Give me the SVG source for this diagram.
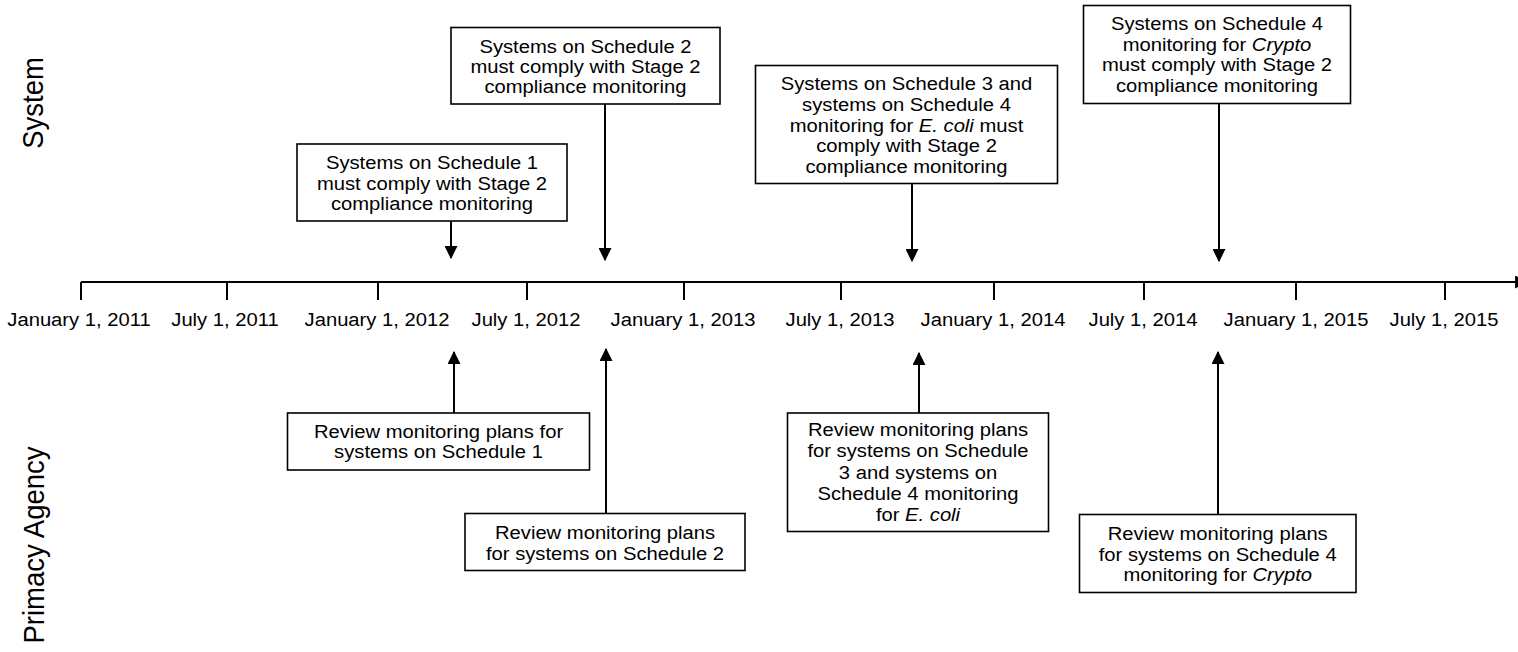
<svg xmlns="http://www.w3.org/2000/svg" width="1518" height="652" viewBox="0 0 1518 652">
<style>
text{font-family:"Liberation Sans",Arial,sans-serif;font-size:18.6px;fill:#000;text-anchor:middle}
.lane{font-size:27.5px}
.box{fill:#fff;stroke:#000;stroke-width:1.6}
.ln{stroke:#000;stroke-width:2;fill:none}
.it{font-style:italic}
</style>
<defs>
<marker id="ah" markerUnits="userSpaceOnUse" markerWidth="13" markerHeight="13" viewBox="0 0 12 12" refX="11" refY="6" orient="auto">
<path d="M0,0 L12,6 L0,12 Z" fill="#000"/>
</marker>
</defs>
<rect width="1518" height="652" fill="#fff"/>

<g id="lanes">
<text class="lane" transform="translate(43,103) scale(1.087,1) rotate(-90)">System</text>
<text class="lane" transform="translate(44,545) scale(1.087,1) rotate(-90)">Primacy Agency</text>
</g>

<g id="axis">
<line class="ln" x1="81" y1="282" x2="1527" y2="282" marker-end="url(#ah)"/>
<path class="ln" d="M81,282V300M227,282V300M378,282V300M527,282V300M684,282V300M841,282V300M994,282V300M1144,282V300M1296,282V300M1445,282V300"/>
<g transform="translate(79,0) scale(1.087,1)"><text x="0" y="326">January 1, 2011</text></g>
<g transform="translate(225,0) scale(1.087,1)"><text x="0" y="326">July 1, 2011</text></g>
<g transform="translate(377,0) scale(1.087,1)"><text x="0" y="326">January 1, 2012</text></g>
<g transform="translate(526,0) scale(1.087,1)"><text x="0" y="326">July 1, 2012</text></g>
<g transform="translate(683,0) scale(1.087,1)"><text x="0" y="326">January 1, 2013</text></g>
<g transform="translate(840,0) scale(1.087,1)"><text x="0" y="326">July 1, 2013</text></g>
<g transform="translate(993,0) scale(1.087,1)"><text x="0" y="326">January 1, 2014</text></g>
<g transform="translate(1143,0) scale(1.087,1)"><text x="0" y="326">July 1, 2014</text></g>
<g transform="translate(1296,0) scale(1.087,1)"><text x="0" y="326">January 1, 2015</text></g>
<g transform="translate(1444,0) scale(1.087,1)"><text x="0" y="326">July 1, 2015</text></g>
</g>

<g id="connectors">
<line class="ln" x1="451" y1="221" x2="451" y2="258" marker-end="url(#ah)"/>
<line class="ln" x1="605" y1="104" x2="605" y2="260" marker-end="url(#ah)"/>
<line class="ln" x1="912" y1="184" x2="912" y2="261" marker-end="url(#ah)"/>
<line class="ln" x1="1219" y1="103" x2="1219" y2="261" marker-end="url(#ah)"/>
<line class="ln" x1="454" y1="413" x2="454" y2="352" marker-end="url(#ah)"/>
<line class="ln" x1="606" y1="513" x2="606" y2="349" marker-end="url(#ah)"/>
<line class="ln" x1="919" y1="413" x2="919" y2="353" marker-end="url(#ah)"/>
<line class="ln" x1="1218" y1="514" x2="1218" y2="352" marker-end="url(#ah)"/>
</g>

<g id="s1">
<rect class="box" x="297" y="144" width="270" height="77"/>
<g transform="translate(432,0) scale(1.087,1)">
<text x="0" y="169.5">Systems on Schedule 1</text>
<text x="0" y="190">must comply with Stage 2</text>
<text x="0" y="210.5">compliance monitoring</text>
</g>
</g>

<g id="s2">
<rect class="box" x="451" y="27.5" width="269" height="76.5"/>
<g transform="translate(585.5,0) scale(1.087,1)">
<text x="0" y="52.7">Systems on Schedule 2</text>
<text x="0" y="73.3">must comply with Stage 2</text>
<text x="0" y="93.5">compliance monitoring</text>
</g>
</g>

<g id="s3">
<rect class="box" x="755.5" y="65.5" width="302" height="118"/>
<g transform="translate(906.5,0) scale(1.087,1)">
<text x="0" y="90">Systems on Schedule 3 and</text>
<text x="0" y="111">systems on Schedule 4</text>
<text x="0" y="131.7">monitoring for <tspan class="it">E. coli</tspan> must</text>
<text x="0" y="152.3">comply with Stage 2</text>
<text x="0" y="173">compliance monitoring</text>
</g>
</g>

<g id="s4">
<rect class="box" x="1083.5" y="5.5" width="267" height="98"/>
<g transform="translate(1217,0) scale(1.087,1)">
<text x="0" y="30">Systems on Schedule 4</text>
<text x="0" y="50.7">monitoring for <tspan class="it">Crypto</tspan></text>
<text x="0" y="71.5">must comply with Stage 2</text>
<text x="0" y="91.7">compliance monitoring</text>
</g>
</g>

<g id="p1">
<rect class="box" x="287.5" y="413" width="302" height="57"/>
<g transform="translate(438.5,0) scale(1.087,1)">
<text x="0" y="438.3">Review monitoring plans for</text>
<text x="0" y="458.5">systems on Schedule 1</text>
</g>
</g>

<g id="p2">
<rect class="box" x="465" y="513.5" width="280" height="57"/>
<g transform="translate(605,0) scale(1.087,1)">
<text x="0" y="539.3">Review monitoring plans</text>
<text x="0" y="560">for systems on Schedule 2</text>
</g>
</g>

<g id="p3">
<rect class="box" x="787.5" y="413" width="261" height="118.5"/>
<g transform="translate(918,0) scale(1.087,1)">
<text x="0" y="436">Review monitoring plans</text>
<text x="0" y="457.5">for systems on Schedule</text>
<text x="0" y="479">3 and systems on</text>
<text x="0" y="500">Schedule 4 monitoring</text>
<text x="0" y="520.7">for <tspan class="it">E. coli</tspan></text>
</g>
</g>

<g id="p4">
<rect class="box" x="1079.5" y="514.5" width="276.5" height="78"/>
<g transform="translate(1217.7,0) scale(1.087,1)">
<text x="0" y="540">Review monitoring plans</text>
<text x="0" y="560.7">for systems on Schedule 4</text>
<text x="0" y="580.7">monitoring for <tspan class="it">Crypto</tspan></text>
</g>
</g>
</svg>
